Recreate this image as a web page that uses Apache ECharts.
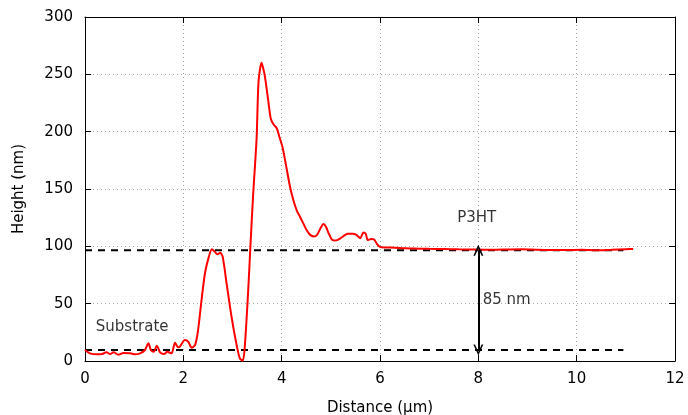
<!DOCTYPE html>
<html><head><meta charset="utf-8">
<script src="https://cdn.jsdelivr.net/npm/echarts@6/dist/echarts.min.js"></script>
<style>html,body{margin:0;padding:0;background:#fff}#c{width:688px;height:415px}</style>
</head><body><div id="c"></div>
<script>
// Profile data (Distance in µm, Height in nm)
const distance = [0,0.1,0.24,0.34,0.44,0.51,0.58,0.68,0.78,0.92,1.02,1.12,1.22,1.29,1.34,1.40,1.46,1.53,1.61,1.67,1.76,1.83,1.89,1.93,2.03,2.10,2.17,2.24,2.30,2.37,2.44,2.51,2.58,2.64,2.69,2.75,2.80,2.88,2.98,3.09,3.15,3.21,3.25,3.32,3.37,3.42,3.49,3.53,3.59,3.62,3.66,3.73,3.78,3.84,3.90,3.95,4.02,4.10,4.17,4.24,4.31,4.37,4.44,4.51,4.58,4.66,4.72,4.78,4.85,4.90,4.96,5.02,5.10,5.18,5.26,5.34,5.44,5.52,5.60,5.66,5.71,5.75,5.82,5.88,5.94,6.0,6.1,6.3,6.5,6.8,7.0,7.3,7.6,8.0,8.3,8.6,8.9,9.2,9.5,9.8,10.1,10.4,10.7,11.0,11.15];
const height = [9.6,6.7,5.8,6,7.6,6,7.6,5.5,7,6.7,5.8,6.7,9.6,15.4,9.6,8,13.4,7.3,6,8,6.7,16,12,12.5,18.3,16.8,11.6,14,27,53,76.5,89.5,97.4,95.3,93,94.5,91,67.7,38.6,12.5,2.3,0.3,12.5,62,105,145,194,244,260,256,248,226,211,206,203,196,186,168,152,140,131,126,120,114,110,108.5,110,115,119.5,117,111,106,105,106.5,109,111,111,110,107,112,111,105.5,106.5,106,102,99.5,99,98.8,98.3,98,97.8,97.6,97.4,97.2,97,97.3,97.5,97,96.8,96.8,97,96.6,97,97.5,97.7];
const xTicks = [0, 2, 4, 6, 8, 10, 12];
const yTicks = [0, 50, 100, 150, 200, 250, 300];
const substrateLevel = 9.6;
const filmLevel = 96.5;
const guideRange = [0, 10.95];
const stepX = 8;
const annotations = [
  {text: 'Substrate', x: 0.22, y: 29.6},
  {text: 'P3HT', x: 7.57, y: 124.7},
  {text: '85 nm', x: 8.09, y: 53.2}
];

const FONT = 'DejaVu Sans';
const chart = echarts.init(document.getElementById('c'));
const xInt = xTicks[1] - xTicks[0];
const yInt = yTicks[1] - yTicks[0];
const baseAxis = {
  axisLine: {show: true, onZero: false, lineStyle: {color: '#000', width: 1}},
  axisTick: {show: true, inside: true, length: 6, lineStyle: {color: '#000', width: 1}},
  minorTick: {show: false}
};
const gridLine = {show: true, lineStyle: {color: '#aaa', width: 1, type: [1, 3]}};
const chevron = 'path://M5,0 L10,11 L8.3,11 L5,3.6 L1.7,11 L0,11 Z';

chart.setOption({
  animation: false,
  backgroundColor: '#fff',
  textStyle: {fontFamily: FONT},
  grid: {left: 85, right: 13, top: 17, bottom: 54, containLabel: false, outerBoundsMode: 'none'},
  xAxis: [
    Object.assign({}, baseAxis, {
      type: 'value', min: xTicks[0], max: xTicks[xTicks.length - 1], interval: xInt,
      position: 'bottom',
      name: 'Distance (µm)', nameLocation: 'middle', nameGap: 40,
      nameTextStyle: {fontFamily: FONT, fontSize: 15, color: '#000'},
      axisLabel: {fontFamily: FONT, fontSize: 15, color: '#000', margin: 11},
      splitLine: gridLine
    }),
    Object.assign({}, baseAxis, {
      type: 'value', min: xTicks[0], max: xTicks[xTicks.length - 1], interval: xInt,
      position: 'top', axisLabel: {show: false}, splitLine: {show: false}
    })
  ],
  yAxis: [
    Object.assign({}, baseAxis, {
      type: 'value', min: yTicks[0], max: yTicks[yTicks.length - 1], interval: yInt,
      position: 'left',
      name: 'Height (nm)', nameLocation: 'middle', nameGap: 58, nameRotate: 90,
      nameTextStyle: {fontFamily: FONT, fontSize: 15, color: '#000'},
      axisLabel: {fontFamily: FONT, fontSize: 15, color: '#000', margin: 12},
      splitLine: gridLine
    }),
    Object.assign({}, baseAxis, {
      type: 'value', min: yTicks[0], max: yTicks[yTicks.length - 1], interval: yInt,
      position: 'right', axisLabel: {show: false}, splitLine: {show: false}
    })
  ],
  series: [
    {
      type: 'line', name: 'film', xAxisIndex: 0, yAxisIndex: 0,
      data: guideRange.map(x => [x, filmLevel]),
      showSymbol: false, symbol: 'none',
      lineStyle: {color: '#000', width: 2, type: [7, 6]}, z: 2
    },
    {
      type: 'line', name: 'substrate', xAxisIndex: 0, yAxisIndex: 0,
      data: guideRange.map(x => [x, substrateLevel]),
      showSymbol: false, symbol: 'none',
      lineStyle: {color: '#000', width: 2, type: [7, 6]}, z: 2
    },
    {
      type: 'line', name: 'profile', xAxisIndex: 0, yAxisIndex: 0,
      data: distance.map((x, i) => [x, height[i]]),
      showSymbol: false, symbol: 'none', smooth: 0.25,
      lineStyle: {color: '#ff0000', width: 2}, z: 3
    },
    {
      type: 'line', name: 'step', xAxisIndex: 0, yAxisIndex: 0,
      data: [], symbol: 'none',
      markLine: {
        silent: true, animation: false,
        symbol: [chevron, chevron], symbolSize: [10, 11],
        label: {show: false},
        lineStyle: {color: '#000', width: 2, type: 'solid'},
        data: [[{coord: [stepX, substrateLevel]}, {coord: [stepX, filmLevel]}]]
      }, z: 4
    },
    {
      type: 'scatter', name: 'labels', xAxisIndex: 0, yAxisIndex: 0,
      symbolSize: 0, silent: true,
      data: annotations.map(a => ({value: [a.x, a.y], name: a.text})),
      label: {show: true, position: 'right', distance: 0, formatter: p => p.name,
        fontFamily: FONT, fontSize: 15, color: '#000'}, z: 5
    }
  ]
});
</script></body></html>
